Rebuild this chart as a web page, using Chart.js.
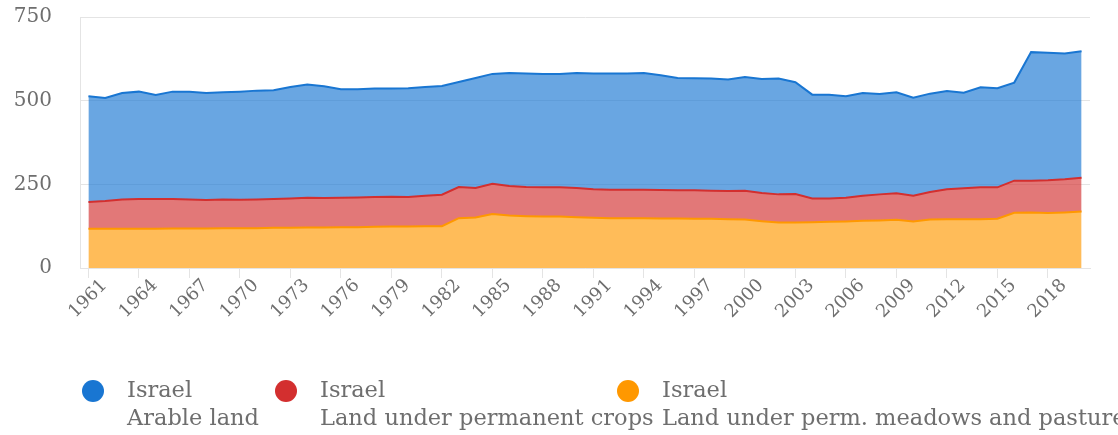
<!DOCTYPE html>
<html>
<head>
<meta charset="utf-8">
<title>Israel - land use</title>
<script src="https://cdn.jsdelivr.net/npm/chart.js@4/dist/chart.umd.min.js"></script>
<style>
  html, body { margin: 0; padding: 0; background: #fff; }
  #wrap { position: relative; width: 1118px; height: 435px; }
</style>
</head>
<body>
<div id="wrap"><canvas id="chart"></canvas></div>
<script>
// Israel, land use (1000 ha), 1961 - 2020
const years = [
  '1961', '1962', '1963', '1964', '1965', '1966', '1967', '1968', '1969', '1970',
  '1971', '1972', '1973', '1974', '1975', '1976', '1977', '1978', '1979', '1980',
  '1981', '1982', '1983', '1984', '1985', '1986', '1987', '1988', '1989', '1990',
  '1991', '1992', '1993', '1994', '1995', '1996', '1997', '1998', '1999', '2000',
  '2001', '2002', '2003', '2004', '2005', '2006', '2007', '2008', '2009', '2010',
  '2011', '2012', '2013', '2014', '2015', '2016', '2017', '2018', '2019', '2020'
];

const arableLand = [
  316, 308, 318, 321, 311, 321, 322, 320, 320, 323,
  325, 325, 333, 338, 334, 324, 323, 324, 323, 325,
  325, 325, 314, 329, 328, 338, 339, 339, 339, 344,
  346, 347, 347, 349, 343, 336, 335, 335, 333, 340,
  341, 346, 334, 310, 310, 303, 307, 300, 302, 293,
  294, 294, 286, 299, 296, 293, 384, 381, 376, 378
];

const permanentCrops = [
  80, 83, 88, 89, 89, 88, 87, 85, 86, 85,
  86, 86, 88, 89, 88, 88, 89, 89, 89, 88,
  91, 94, 93, 88, 91, 88, 87, 87, 87, 87,
  85, 85, 85, 85, 85, 84, 85, 84, 84, 86,
  84, 84, 85, 71, 70, 71, 75, 78, 79, 77,
  82, 89, 92, 95, 94, 96, 95, 98, 99, 101
];

const meadowsPastures = [
  117, 117, 117, 117, 117, 118, 118, 118, 119, 119,
  119, 120, 120, 121, 121, 122, 122, 123, 124, 124,
  125, 125, 149, 151, 161, 157, 155, 154, 154, 152,
  150, 149, 149, 149, 148, 148, 147, 147, 146, 145,
  140, 136, 136, 137, 138, 139, 141, 142, 144, 139,
  145, 146, 146, 146, 147, 165, 166, 164, 166, 169
];

const country = 'Israel';
const seriesNames = ['Arable land', 'Land under permanent crops', 'Land under perm. meadows and pastures'];
const yTicks = [0, 250, 500, 750];

const FONT = "'DejaVu Serif', serif";
const TEXT_GREY = '#6e6e6e';
const GRID_GREY = '#e4e4e4';

// legend drawn by hand: dot + two text lines, cut off at the right edge like the original
const dotLegend = {
  id: 'dotLegend',
  afterDraw(chart, args, opts) {
    const ctx = chart.ctx;
    ctx.save();
    ctx.font = opts.size + 'px ' + FONT;
    ctx.textBaseline = 'middle';
    ctx.textAlign = 'left';
    opts.order.forEach((dsIndex, i) => {
      const ds = chart.data.datasets[dsIndex];
      const x = opts.x[i];
      ctx.fillStyle = ds.borderColor;
      ctx.beginPath();
      ctx.arc(x, opts.y, opts.radius, 0, Math.PI * 2);
      ctx.fill();
      ctx.fillStyle = TEXT_GREY;
      ds.label.forEach((line, j) => {
        ctx.fillText(line, x + opts.gap, opts.y + j * opts.lineHeight);
      });
    });
    ctx.restore();
  }
};

function initChart() {
  const ctx = document.getElementById('chart').getContext('2d');

  new Chart(ctx, {
    type: 'line',
    data: {
      labels: years,
      datasets: [
        {
          label: [country, seriesNames[2]],
          data: meadowsPastures,
          borderColor: '#ff9800',
          backgroundColor: 'rgba(255, 152, 0, 0.65)',
          fill: 'origin'
        },
        {
          label: [country, seriesNames[1]],
          data: permanentCrops,
          borderColor: '#d32f2f',
          backgroundColor: 'rgba(211, 47, 47, 0.65)',
          fill: '-1'
        },
        {
          label: [country, seriesNames[0]],
          data: arableLand,
          borderColor: '#1976d2',
          backgroundColor: 'rgba(25, 118, 210, 0.65)',
          fill: '-1'
        }
      ]
    },
    options: {
      responsive: true,
      maintainAspectRatio: false,
      animation: false,
      elements: {
        line: { tension: 0, borderWidth: 2 },
        point: { radius: 0, hoverRadius: 0 }
      },
      layout: {
        padding: { top: 17, right: 28, bottom: 0, left: 0 }
      },
      plugins: {
        legend: { display: false },
        tooltip: { enabled: false },
        dotLegend: {
          order: [2, 1, 0],
          x: [93, 286, 628],
          y: 391,
          radius: 11,
          gap: 34,
          lineHeight: 28,
          size: 22.5
        }
      },
      scales: {
        x: {
          offset: true,
          grid: {
            drawOnChartArea: false,
            drawTicks: true,
            tickLength: 10,
            color: GRID_GREY
          },
          border: { display: true, color: GRID_GREY },
          ticks: {
            autoSkip: false,
            maxRotation: 45,
            minRotation: 45,
            labelOffset: 16,
            padding: -3,
            color: TEXT_GREY,
            font: { family: FONT, size: 18 },
            callback: function(value, index) {
              return index % 3 === 0 ? this.getLabelForValue(value) : null;
            }
          },
          afterFit: function(scale) { scale.height = 167; }
        },
        y: {
          stacked: true,
          min: yTicks[0],
          max: yTicks[yTicks.length - 1],
          afterBuildTicks: function(scale) {
            scale.ticks = yTicks.map(v => ({ value: v }));
          },
          grid: { color: GRID_GREY, drawTicks: false },
          border: { display: true, color: GRID_GREY },
          ticks: {
            padding: 28,
            color: TEXT_GREY,
            font: { family: FONT, size: 20 }
          },
          afterFit: function(scale) {
            scale.width = 80;
            scale.paddingTop = 0;
            scale.paddingBottom = 0;
          }
        }
      }
    },
    plugins: [dotLegend]
  });
}

document.addEventListener('DOMContentLoaded', initChart);
</script>
</body>
</html>
